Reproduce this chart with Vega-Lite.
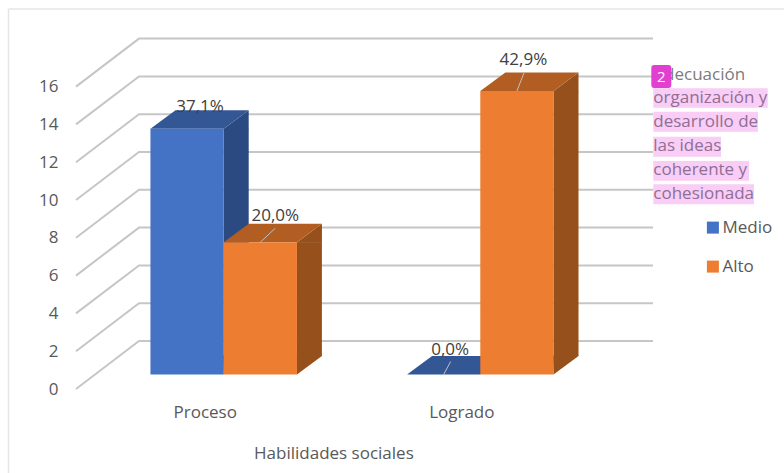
{
"$schema":"https://vega.github.io/schema/vega-lite/v6.json",
"width":513.2,"height":302.4,
"autosize":{"type":"none"},
"padding":{"left":95.4,"top":72.1,"right":175.4,"bottom":98.5},
"background":"white",
"config":{"view":{"stroke":null},"font":"Open Sans"},
"datasets":{
"barras":[
{"categoria":"Proceso","serie":"Medio","valor":13,"etiqueta":"37,1%"},
{"categoria":"Proceso","serie":"Alto","valor":7,"etiqueta":"20,0%"},
{"categoria":"Logrado","serie":"Medio","valor":0,"etiqueta":"0,0%"},
{"categoria":"Logrado","serie":"Alto","valor":15,"etiqueta":"42,9%"}],
"marcas":[{"categoria":"Proceso","valor":0},{"categoria":"Proceso","valor":2},{"categoria":"Proceso","valor":4},{"categoria":"Proceso","valor":6},{"categoria":"Proceso","valor":8},{"categoria":"Proceso","valor":10},{"categoria":"Proceso","valor":12},{"categoria":"Proceso","valor":14},{"categoria":"Proceso","valor":16}],
"lineas":[{"categoria":"Logrado","valor":16,"linea":"organización y"},{"categoria":"Logrado","valor":16,"linea":"desarrollo de"},{"categoria":"Logrado","valor":16,"linea":"las ideas"},{"categoria":"Logrado","valor":16,"linea":"coherente y"},{"categoria":"Logrado","valor":16,"linea":"cohesionada"}],
"nota":[{"categoria":"Logrado","valor":16,"texto":"Adecuación","resto":"organización y\ndesarrollo de\nlas ideas\ncoherente y\ncohesionada","insignia":"2"}]
},
"encoding":{
"x":{"field":"categoria","type":"nominal","sort":["Proceso","Logrado"],
 "scale":{"domain":["Proceso","Logrado"],"paddingInner":0.429,"paddingOuter":0.2145},
 "axis":{"title":"Habilidades sociales","labelAngle":0,"domain":false,"ticks":false,"labelOffset":-18.5,"labelPadding":30,"labelFontSize":17,"labelColor":"#595959","titleFontSize":17,"titleFontWeight":"normal","titleColor":"#595959","titleX":238,"titleY":79,"titleBaseline":"middle","grid":false}},
"y":{"field":"valor","type":"quantitative","stack":null,
 "scale":{"domain":[0,16],"nice":false,"zero":true},
 "axis":{"title":null,"values":[0,2,4,6,8,10,12,14,16],"domain":false,"ticks":false,"tickSize":0,"grid":false,"offset":37.4,"labelPadding":0,"labelOffset":14.5,"labelFontSize":17,"labelColor":"#595959"}}
},
"layer":[
{"data":{"name":"nota"},"mark":{"type":"point","shape":"M-471.8 -63 L303.7 -63 M-471.8 -63 L-471.8 401","size":4,"filled":false,"stroke":"#e6e6e6","strokeWidth":1.5,"opacity":1}},
{"data":{"name":"marcas"},"mark":{"type":"point","shape":"M-147.7 14.5 L-84.7 -33.5 L429.3 -33.5","size":4,"filled":false,"stroke":"#c6c6c6","strokeWidth":2,"opacity":1}},
{"data":{"name":"barras"},"transform":[{"filter":"datum.serie === 'Medio' && datum.valor > 0"}],"mark":{"type":"bar","width":25,"xOffset":12.5,"y2Offset":-18.5,"color":"#2b4a82"},
 "encoding":{"y2":{"datum":0}}},
{"data":{"name":"barras"},"transform":[{"filter":"datum.serie === 'Alto'"}],"mark":{"type":"bar","width":25,"xOffset":85.7,"y2Offset":-18.5,"color":"#95501c"},
 "encoding":{"y2":{"datum":0}}},
{"data":{"name":"barras"},"transform":[{"filter":"datum.valor > 0"}],"mark":{"type":"point","shape":"M36 0.5 L61.6 0.5 L61.6 -18.5 Z","size":4,"filled":true,"strokeWidth":0,"opacity":1},
 "encoding":{"xOffset":{"field":"serie","sort":["Medio","Alto"]},
 "color":{"field":"serie","scale":{"domain":["Medio","Alto"],"range":["#2b4a82","#95501c"]},"legend":null}}},
{"data":{"name":"barras"},"transform":[{"filter":"datum.valor > 0"}],"mark":{"type":"point","shape":"M36 -19 L61.6 -19 L61.6 -18.5 L36.6 0 Z","size":4,"filled":true,"strokeWidth":0,"opacity":1},
 "encoding":{"xOffset":{"field":"serie","sort":["Medio","Alto"]},"y":{"datum":0},
 "color":{"field":"serie","scale":{"domain":["Medio","Alto"],"range":["#2b4a82","#95501c"]},"legend":null}}},
{"data":{"name":"barras"},"mark":{"type":"point","shape":"M-36.6 0 L36.6 0 L61.6 -18.5 L-11.6 -18.5 Z","size":4,"filled":true,"strokeWidth":0,"opacity":1},
 "encoding":{"xOffset":{"field":"serie","sort":["Medio","Alto"]},
 "color":{"field":"serie","scale":{"domain":["Medio","Alto"],"range":["#335694","#b25e22"]},"legend":null}}},
{"data":{"name":"barras"},"mark":{"type":"bar"},
 "encoding":{"xOffset":{"field":"serie","sort":["Medio","Alto"]},"y2":{"datum":0},
 "color":{"field":"serie","scale":{"domain":["Medio","Alto"],"range":["#4472c4","#ed7d31"]},
 "legend":{"title":null,"orient":"none","legendX":609,"legendY":147,"symbolType":"square","symbolSize":144,"labelFontSize":17,"labelColor":"#595959","rowPadding":21,"labelOffset":1,"padding":0}}}},
{"data":{"name":"barras"},"transform":[{"filter":"datum.etiqueta !== '37,1%'"}],"mark":{"type":"point","size":4,"filled":false,"stroke":"#c0c0c0","strokeWidth":1,"opacity":1},
 "encoding":{"xOffset":{"field":"serie","sort":["Medio","Alto"]},
 "shape":{"field":"etiqueta","scale":{"domain":["20,0%","0,0%","42,9%"],"range":["M0 0 L15 -14","M0 0 L7 -13","M0 0 L7 -18"]},"legend":null}}},
{"data":{"name":"barras"},"transform":[{"filter":"datum.etiqueta === '37,1%'"}],"mark":{"type":"text","dx":13,"dy":-22,"fontSize":17,"color":"#404040"},
 "encoding":{"xOffset":{"field":"serie","sort":["Medio","Alto"]},"text":{"field":"etiqueta"}}},
{"data":{"name":"barras"},"transform":[{"filter":"datum.etiqueta === '20,0%'"}],"mark":{"type":"text","dx":15,"dy":-26,"fontSize":17,"color":"#404040"},
 "encoding":{"xOffset":{"field":"serie","sort":["Medio","Alto"]},"text":{"field":"etiqueta"}}},
{"data":{"name":"barras"},"transform":[{"filter":"datum.etiqueta === '0,0%'"}],"mark":{"type":"text","dx":6.5,"dy":-25,"fontSize":17,"color":"#404040"},
 "encoding":{"xOffset":{"field":"serie","sort":["Medio","Alto"]},"text":{"field":"etiqueta"}}},
{"data":{"name":"barras"},"transform":[{"filter":"datum.etiqueta === '42,9%'"}],"mark":{"type":"text","dx":6.5,"dy":-31,"fontSize":17,"color":"#404040"},
 "encoding":{"xOffset":{"field":"serie","sort":["Medio","Alto"]},"text":{"field":"etiqueta"}}},
{"data":{"name":"lineas"},"mark":{"type":"point","size":4,"filled":true,"strokeWidth":0,"opacity":1,"fill":"#f9cdf5"},
 "encoding":{
 "shape":{"field":"linea","scale":{"domain":["organización y","desarrollo de","las ideas","coherente y","cohesionada"],
 "range":["M173 16.2 L287.4 16.2 L287.4 35.6 L173 35.6 Z","M173 39.6 L277.7 39.6 L277.7 59.6 L173 59.6 Z","M173 64.6 L240.7 64.6 L240.7 84.6 L173 84.6 Z","M173 88.9 L268.7 88.9 L268.7 108.6 L173 108.6 Z","M173 112.2 L273.7 112.2 L273.7 132.2 L173 132.2 Z"]},"legend":null}}},
{"data":{"name":"nota"},"mark":{"type":"text","align":"left","baseline":"middle","dx":173,"dy":3,"fontSize":17,"color":"#7b7b7b"},
 "encoding":{"text":{"field":"texto"}}},
{"data":{"name":"nota"},"mark":{"type":"text","align":"left","baseline":"top","dx":173,"dy":17.5,"fontSize":17,"lineHeight":24.1,"lineBreak":"\n","color":"#8f6f96"},
 "encoding":{"text":{"field":"resto"}}},
{"data":{"name":"nota"},"mark":{"type":"point","shape":"M174 -7 L188 -7 Q191 -7 191 -4 L191 13 Q191 16 188 16 L174 16 Q171 16 171 13 L171 -4 Q171 -7 174 -7 Z","size":4,"filled":true,"strokeWidth":0,"opacity":1,"fill":"#e23fd0"}},
{"data":{"name":"nota"},"mark":{"type":"text","align":"center","baseline":"middle","dx":181,"dy":5,"fontSize":15,"color":"white"},
 "encoding":{"text":{"field":"insignia"}}}
],
"resolve":{"scale":{"color":"independent","shape":"independent"}}
}
